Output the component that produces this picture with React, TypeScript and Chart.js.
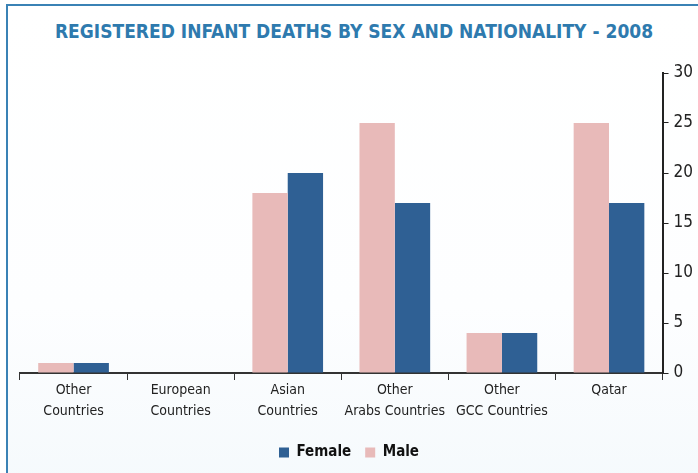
import React, { useEffect, useRef } from "react";
import { Chart, registerables } from "chart.js";

Chart.register(...registerables);

const categories: (string | string[])[] = [
  ["Other", "Countries"],
  ["European", "Countries"],
  ["Asian", "Countries"],
  ["Other", "Arabs Countries"],
  ["Other", "GCC Countries"],
  "Qatar",
];
const maleValues = [1, 0, 18, 25, 4, 25];
const femaleValues = [1, 0, 20, 17, 4, 17];
const yTicks = [0, 5, 10, 15, 20, 25, 30];

const TITLE = "REGISTERED INFANT DEATHS BY SEX AND NATIONALITY - 2008";
const FONT = "'DejaVu Sans Condensed', 'DejaVu Sans', sans-serif";

const legendShift = {
  id: "legendShift",
  afterLayout(chart: any) {
    if (chart.legend) {
      chart.legend.left -= 10;
      chart.legend.right -= 10;
      chart.legend.top += 9;
      chart.legend.bottom += 9;
    }
  },
};

export default function App() {
  const ref = useRef<HTMLCanvasElement | null>(null);

  useEffect(() => {
    if (!ref.current) return;
    const chart = new Chart(ref.current, {
      type: "bar",
      data: {
        labels: categories,
        datasets: [
          {
            label: "Male",
            data: maleValues,
            backgroundColor: "#e8bab9",
            borderWidth: 0,
          },
          {
            label: "Female",
            data: femaleValues,
            backgroundColor: "#2f6094",
            borderWidth: 0,
          },
        ],
      },
      plugins: [legendShift],
      options: {
        responsive: false,
        animation: false,
        layout: { padding: { left: 20, right: 0, top: 73, bottom: 12 } },
        datasets: {
          bar: { categoryPercentage: 0.66, barPercentage: 1 },
        },
        plugins: {
          title: { display: false },
          tooltip: { enabled: false },
          legend: {
            position: "bottom",
            reverse: true,
            labels: {
              boxWidth: 10,
              boxHeight: 10,
              padding: 14,
              color: "#111",
              font: { family: FONT, size: 15, weight: "bold" },
            },
          },
        },
        scales: {
          x: {
            grid: {
              display: true,
              drawOnChartArea: false,
              drawTicks: true,
              tickLength: 7,
              color: "#333",
              offset: true,
            },
            border: { display: true, color: "#333", width: 2 },
            ticks: {
              color: "#222",
              padding: 0,
              font: { family: FONT, size: 14, lineHeight: 1.5 },
              maxRotation: 0,
              autoSkip: false,
            },
          },
          y: {
            position: "right",
            min: 0,
            max: 30,
            afterBuildTicks: (axis: any) => {
              axis.ticks = yTicks.map((v) => ({ value: v }));
            },
            grid: {
              display: true,
              drawOnChartArea: false,
              drawTicks: true,
              tickLength: 6,
              color: "#222",
            },
            border: { display: true, color: "#222", width: 2 },
            ticks: {
              color: "#222",
              padding: 5,
              font: { family: FONT, size: 17 },
            },
          },
        },
      },
    });
    return () => chart.destroy();
  }, []);

  return (
    <div
      style={{
        position: "fixed",
        left: 0,
        top: 0,
        width: 698,
        height: 473,
        overflow: "hidden",
        background: "#ffffff",
      }}
    >
      <div
        style={{
          position: "absolute",
          left: 6,
          top: 4,
          width: 720,
          height: 500,
          borderLeft: "2px solid #3a82b5",
          borderTop: "2px solid #3a82b5",
          background: "linear-gradient(#ffffff 0%, #fdfeff 60%, #f4f9fc 100%)",
        }}
      />
      <div
        style={{
          position: "absolute",
          left: 0,
          top: 20,
          width: 708,
          textAlign: "center",
          color: "#2e7aae",
          fontFamily: FONT,
          fontWeight: "bold",
          fontSize: 19,
          whiteSpace: "nowrap",
        }}
      >
        {TITLE}
      </div>
      <canvas
        ref={ref}
        width={698}
        height={473}
        style={{ position: "absolute", left: 0, top: 0 }}
      />
    </div>
  );
}
